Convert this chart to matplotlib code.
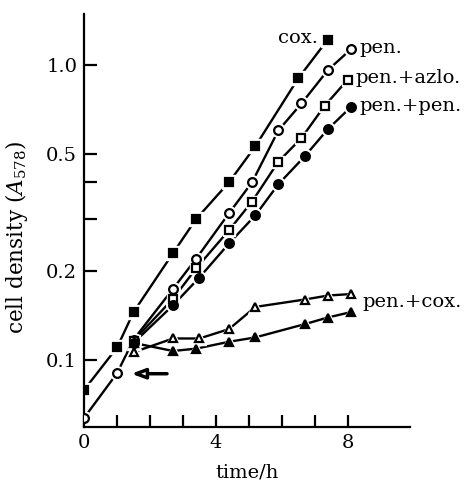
import matplotlib
matplotlib.use('Agg')
import matplotlib.pyplot as plt
from matplotlib.ticker import FixedLocator, NullFormatter, FixedFormatter

plt.rcParams['font.family'] = 'DejaVu Serif'
plt.rcParams['mathtext.fontset'] = 'dejavuserif'

# data (time in h, cell density A578)
cox_t = [0, 1.0, 1.5, 2.7, 3.4, 4.4, 5.2, 6.5, 7.4]
cox_y = [0.079, 0.110, 0.145, 0.23, 0.30, 0.40, 0.53, 0.90, 1.22]

pen_t = [0, 1.0, 1.5, 2.7, 3.4, 4.4, 5.1, 5.9, 6.6, 7.4, 8.1]
pen_y = [0.0635, 0.090, 0.117, 0.174, 0.22, 0.314, 0.40, 0.60, 0.74, 0.96, 1.13]

azlo_t = [1.5, 2.7, 3.4, 4.4, 5.1, 5.9, 6.6, 7.3, 8.0]
azlo_y = [0.116, 0.161, 0.204, 0.275, 0.344, 0.47, 0.565, 0.726, 0.89]

penpen_t = [1.5, 2.7, 3.5, 4.4, 5.2, 5.9, 6.7, 7.4, 8.1]
penpen_y = [0.114, 0.153, 0.19, 0.248, 0.309, 0.394, 0.49, 0.605, 0.72]

pcox_open_t = [1.5, 2.7, 3.5, 4.4, 5.2, 6.7, 7.4, 8.1]
pcox_open_y = [0.106, 0.118, 0.118, 0.127, 0.151, 0.160, 0.165, 0.167]

pcox_fill_t = [1.5, 2.7, 3.4, 4.4, 5.2, 6.7, 7.4, 8.1]
pcox_fill_y = [0.114, 0.107, 0.109, 0.115, 0.119, 0.132, 0.139, 0.145]

fig = plt.figure(figsize=(4.65, 4.8), dpi=100)
ax = fig.add_axes([0.181, 0.110, 0.701, 0.861])


def draw(t, y, marker, filled, ms=6.3):
    ax.plot(t, y, '-', color='black', lw=1.7, zorder=1)
    # white halo so the line stops short of each marker
    ax.plot(t, y, linestyle='none', marker=marker, ms=ms + 3.5,
            mfc='white', mec='white', zorder=2)
    ax.plot(t, y, linestyle='none', marker=marker, ms=ms,
            mfc='black' if filled else 'white', mec='black', mew=1.6, zorder=3)


draw(cox_t, cox_y, 's', True)
draw(pen_t, pen_y, 'o', False)
draw(azlo_t, azlo_y, 's', False, ms=5.8)
draw(penpen_t, penpen_y, 'o', True)
draw(pcox_open_t, pcox_open_y, '^', False)
draw(pcox_fill_t, pcox_fill_y, '^', True)

ax.set_yscale('log')
ax.set_xlim(0, 9.9)
ax.set_ylim(0.059, 1.49)

for s in ['top', 'right']:
    ax.spines[s].set_visible(False)
for s in ['left', 'bottom']:
    ax.spines[s].set_linewidth(1.6)

ax.xaxis.set_major_locator(FixedLocator([0, 4, 8]))
ax.xaxis.set_minor_locator(FixedLocator([1, 2, 3, 5, 6, 7]))
ax.yaxis.set_major_locator(FixedLocator([0.1, 0.2, 0.5, 1.0]))
ax.yaxis.set_major_formatter(FixedFormatter(['0.1', '0.2', '0.5', '1.0']))
ax.yaxis.set_minor_locator(FixedLocator([0.3, 0.4]))
ax.yaxis.set_minor_formatter(NullFormatter())
ax.tick_params(which='both', direction='in', width=1.6, labelsize=14, pad=5)
ax.tick_params(which='both', length=9)

ax.set_xlabel('time/h', fontsize=14, labelpad=8)
ax.set_ylabel(r'cell density ($A_{578}$)', fontsize=15.5, labelpad=8)
ax.yaxis.set_label_coords(-0.165, 0.458)

# series labels
ax.text(7.1, 1.23, 'cox.', fontsize=14, ha='right', va='center')
ax.text(8.35, 1.14, 'pen.', fontsize=14, ha='left', va='center')
ax.text(8.25, 0.90, 'pen.+azlo.', fontsize=14, ha='left', va='center')
ax.text(8.35, 0.725, 'pen.+pen.', fontsize=14, ha='left', va='center')
ax.text(8.45, 0.157, 'pen.+cox.', fontsize=14, ha='left', va='center')

# arrow marking the addition time
ax.annotate('', xy=(1.35, 0.0896), xytext=(2.6, 0.0896),
            arrowprops=dict(arrowstyle='-|>,head_length=0.8,head_width=0.3',
                            lw=2.5, color='black', fc='white'))

fig.savefig('out.png', dpi=100)
